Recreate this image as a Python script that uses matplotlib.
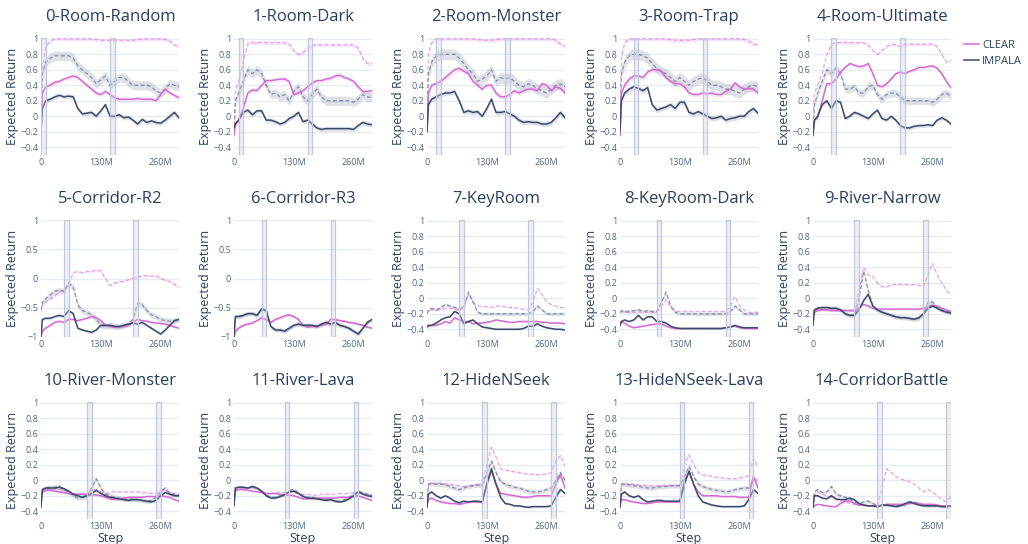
import matplotlib
matplotlib.use("Agg")
import matplotlib.pyplot as plt
from matplotlib.lines import Line2D
from matplotlib.ticker import FuncFormatter
import numpy as np

plt.rcParams['font.family'] = ['Open Sans', 'DejaVu Sans']

# ---- data (steps in millions) ----
steps = [0, 3, 10, 20, 30, 40, 50, 60, 70, 80, 90, 100, 110, 120, 130, 140, 150,
         160, 170, 180, 190, 200, 210, 220, 230, 240, 250, 260, 270, 280, 290, 300]

tasks = ['0-Room-Random', '1-Room-Dark', '2-Room-Monster', '3-Room-Trap', '4-Room-Ultimate',
         '5-Corridor-R2', '6-Corridor-R3', '7-KeyRoom', '8-KeyRoom-Dark', '9-River-Narrow',
         '10-River-Monster', '11-River-Lava', '12-HideNSeek', '13-HideNSeek-Lava', '14-CorridorBattle']

# training windows of each task (start of the two highlighted spans, in M steps)
span_starts = [(0, 150), (10, 160), (20, 170), (30, 180), (40, 190),
               (50, 200), (60, 210), (70, 220), (80, 230), (90, 240),
               (100, 250), (110, 260), (120, 270), (130, 280), (140, 290)]
span_len = 10

clear_solid = [
    [-0.2, 0.3, 0.38, 0.4, 0.44, 0.45, 0.48, 0.5, 0.52, 0.5, 0.45, 0.4, 0.35, 0.3, 0.28, 0.32, 0.28, 0.24, 0.22, 0.22, 0.22, 0.22, 0.23, 0.22, 0.22, 0.22, 0.2, 0.28, 0.35, 0.3, 0.27, 0.24],
    [-0.25, -0.1, -0.05, 0.1, 0.3, 0.34, 0.33, 0.4, 0.46, 0.46, 0.47, 0.48, 0.48, 0.45, 0.28, 0.3, 0.33, 0.38, 0.43, 0.46, 0.46, 0.48, 0.49, 0.52, 0.53, 0.5, 0.48, 0.45, 0.38, 0.32, 0.32, 0.33],
    [-0.2, 0.3, 0.4, 0.42, 0.45, 0.5, 0.55, 0.6, 0.62, 0.58, 0.55, 0.45, 0.4, 0.35, 0.4, 0.4, 0.3, 0.25, 0.25, 0.28, 0.33, 0.3, 0.33, 0.35, 0.35, 0.33, 0.42, 0.4, 0.33, 0.38, 0.36, 0.3],
    [-0.25, 0.3, 0.4, 0.48, 0.52, 0.52, 0.5, 0.57, 0.6, 0.6, 0.58, 0.5, 0.45, 0.42, 0.42, 0.38, 0.3, 0.28, 0.28, 0.3, 0.29, 0.3, 0.28, 0.28, 0.32, 0.35, 0.43, 0.38, 0.35, 0.36, 0.35, 0.3],
    [-0.2, -0.05, -0.02, 0.2, 0.42, 0.42, 0.48, 0.57, 0.63, 0.68, 0.66, 0.64, 0.65, 0.68, 0.55, 0.4, 0.38, 0.42, 0.48, 0.55, 0.57, 0.55, 0.58, 0.6, 0.63, 0.63, 0.64, 0.65, 0.62, 0.55, 0.45, 0.37],
    [-1.0, -0.9, -0.85, -0.8, -0.75, -0.73, -0.75, -0.7, -0.7, -0.72, -0.7, -0.68, -0.65, -0.67, -0.72, -0.8, -0.82, -0.83, -0.83, -0.82, -0.8, -0.75, -0.7, -0.72, -0.73, -0.75, -0.76, -0.77, -0.78, -0.8, -0.83, -0.85],
    [-1.0, -0.9, -0.85, -0.8, -0.78, -0.76, -0.72, -0.67, -0.7, -0.75, -0.7, -0.67, -0.64, -0.62, -0.65, -0.7, -0.8, -0.83, -0.82, -0.82, -0.8, -0.78, -0.7, -0.7, -0.72, -0.73, -0.75, -0.76, -0.78, -0.8, -0.83, -0.85],
    [-0.38, -0.36, -0.35, -0.35, -0.33, -0.3, -0.32, -0.25, -0.28, -0.3, -0.3, -0.33, -0.32, -0.32, -0.31, -0.3, -0.28, -0.29, -0.3, -0.31, -0.31, -0.3, -0.3, -0.3, -0.3, -0.3, -0.31, -0.31, -0.32, -0.32, -0.32, -0.33],
    [-0.32, -0.3, -0.32, -0.36, -0.38, -0.37, -0.36, -0.35, -0.34, -0.33, -0.33, -0.36, -0.38, -0.39, -0.39, -0.39, -0.39, -0.39, -0.39, -0.39, -0.39, -0.39, -0.39, -0.39, -0.38, -0.37, -0.36, -0.38, -0.39, -0.39, -0.39, -0.39],
    [-0.22, -0.18, -0.16, -0.15, -0.15, -0.16, -0.16, -0.16, -0.16, -0.16, -0.16, -0.12, -0.08, -0.1, -0.13, -0.14, -0.14, -0.14, -0.14, -0.14, -0.14, -0.14, -0.14, -0.14, -0.14, -0.13, -0.11, -0.09, -0.1, -0.13, -0.15, -0.17],
    [-0.22, -0.15, -0.13, -0.13, -0.14, -0.15, -0.16, -0.17, -0.18, -0.18, -0.18, -0.19, -0.19, -0.19, -0.2, -0.22, -0.24, -0.25, -0.24, -0.23, -0.22, -0.22, -0.22, -0.22, -0.21, -0.21, -0.21, -0.2, -0.21, -0.22, -0.25, -0.27],
    [-0.22, -0.14, -0.12, -0.12, -0.13, -0.14, -0.15, -0.16, -0.17, -0.17, -0.17, -0.18, -0.19, -0.19, -0.2, -0.22, -0.24, -0.24, -0.24, -0.23, -0.23, -0.23, -0.23, -0.23, -0.22, -0.22, -0.22, -0.21, -0.2, -0.22, -0.24, -0.26],
    [-0.3, -0.25, -0.23, -0.26, -0.28, -0.29, -0.3, -0.3, -0.31, -0.3, -0.28, -0.28, -0.28, -0.28, -0.05, 0.12, -0.05, -0.17, -0.18, -0.19, -0.2, -0.21, -0.22, -0.22, -0.21, -0.2, -0.2, -0.2, -0.2, -0.05, 0.07, -0.1],
    [-0.3, -0.25, -0.25, -0.27, -0.28, -0.29, -0.3, -0.3, -0.29, -0.28, -0.28, -0.28, -0.28, -0.28, -0.28, 0.0, 0.1, -0.05, -0.15, -0.2, -0.2, -0.2, -0.2, -0.21, -0.21, -0.21, -0.21, -0.22, -0.22, -0.22, 0.05, -0.1],
    [-0.35, -0.33, -0.31, -0.32, -0.33, -0.34, -0.34, -0.3, -0.27, -0.27, -0.3, -0.32, -0.32, -0.33, -0.33, -0.34, -0.32, -0.31, -0.31, -0.31, -0.31, -0.31, -0.3, -0.3, -0.3, -0.31, -0.31, -0.31, -0.32, -0.33, -0.33, -0.33],
]

clear_dashed = [
    [-0.2, 0.6, 0.9, 0.97, 1.0, 1.0, 1.0, 1.0, 1.0, 1.0, 1.0, 1.0, 1.0, 0.99, 0.98, 0.98, 0.98, 0.98, 0.98, 0.98, 0.98, 0.98, 0.99, 1.0, 1.0, 1.0, 1.0, 1.0, 0.99, 0.97, 0.92, 0.9],
    [-0.2, 0.35, 0.45, 0.7, 0.94, 0.95, 0.95, 0.95, 0.95, 0.95, 0.95, 0.95, 0.95, 0.93, 0.85, 0.8, 0.82, 0.88, 0.92, 0.92, 0.92, 0.92, 0.92, 0.92, 0.92, 0.92, 0.92, 0.92, 0.88, 0.75, 0.68, 0.68],
    [0.2, 0.8, 0.95, 1.0, 1.0, 1.0, 1.0, 1.0, 1.0, 1.0, 1.0, 1.0, 0.99, 0.98, 0.98, 0.98, 0.99, 1.0, 1.0, 1.0, 1.0, 1.0, 1.0, 1.0, 1.0, 1.0, 1.0, 1.0, 1.0, 0.98, 0.93, 0.91],
    [-0.25, 0.75, 0.95, 1.0, 1.0, 1.0, 1.0, 1.0, 1.0, 1.0, 1.0, 1.0, 0.99, 0.98, 0.98, 0.98, 0.98, 0.99, 1.0, 1.0, 1.0, 1.0, 1.0, 1.0, 1.0, 1.0, 1.0, 1.0, 0.99, 0.97, 0.93, 0.92],
    [0.0, 0.3, 0.4, 0.55, 0.8, 0.93, 0.95, 0.95, 0.95, 0.95, 0.95, 0.95, 0.95, 0.92, 0.85, 0.8, 0.85, 0.9, 0.93, 0.92, 0.9, 0.93, 0.93, 0.93, 0.93, 0.93, 0.93, 0.93, 0.9, 0.8, 0.7, 0.72],
    [-0.5, -0.45, -0.4, -0.35, -0.3, -0.22, -0.2, -0.1, 0.1, 0.12, 0.1, 0.12, 0.12, 0.15, 0.13, 0.0, -0.12, -0.08, -0.05, -0.05, -0.02, 0.0, 0.02, 0.05, 0.05, 0.04, 0.05, 0.0, -0.03, -0.05, -0.1, -0.15],
    [-1.0, -0.9, -0.85, -0.8, -0.78, -0.76, -0.72, -0.67, -0.7, -0.75, -0.7, -0.67, -0.64, -0.62, -0.65, -0.7, -0.8, -0.83, -0.82, -0.82, -0.8, -0.78, -0.7, -0.7, -0.72, -0.73, -0.75, -0.76, -0.78, -0.8, -0.83, -0.85],
    [-0.2, -0.15, -0.15, -0.15, -0.14, -0.13, -0.13, -0.14, -0.15, -0.1, 0.05, -0.05, -0.1, -0.1, -0.11, -0.12, -0.1, -0.1, -0.11, -0.12, -0.12, -0.13, -0.14, -0.15, -0.05, 0.13, 0.05, -0.05, -0.08, -0.1, -0.12, -0.12],
    [-0.18, -0.17, -0.18, -0.18, -0.18, -0.18, -0.18, -0.18, -0.18, -0.18, -0.1, -0.02, -0.12, -0.16, -0.17, -0.17, -0.17, -0.17, -0.17, -0.17, -0.17, -0.17, -0.17, -0.17, -0.17, -0.1, 0.02, -0.1, -0.15, -0.18, -0.18, -0.18],
    [-0.2, -0.17, -0.15, -0.15, -0.15, -0.15, -0.15, -0.15, -0.15, -0.15, -0.15, 0.1, 0.4, 0.3, 0.28, 0.2, 0.15, 0.15, 0.17, 0.18, 0.18, 0.18, 0.17, 0.18, 0.17, 0.15, 0.3, 0.45, 0.3, 0.2, 0.1, 0.05],
    [-0.25, -0.15, -0.12, -0.12, -0.11, -0.12, -0.13, -0.15, -0.17, -0.18, -0.17, -0.17, -0.12, -0.12, -0.15, -0.17, -0.16, -0.14, -0.15, -0.15, -0.15, -0.15, -0.15, -0.16, -0.16, -0.17, -0.17, -0.12, -0.13, -0.16, -0.18, -0.19],
    [-0.22, -0.13, -0.1, -0.1, -0.1, -0.1, -0.12, -0.15, -0.17, -0.17, -0.16, -0.15, -0.16, -0.15, -0.15, -0.17, -0.18, -0.18, -0.19, -0.19, -0.18, -0.18, -0.18, -0.18, -0.17, -0.17, -0.17, -0.16, -0.15, -0.17, -0.18, -0.19],
    [-0.25, -0.05, -0.04, -0.04, -0.04, -0.05, -0.05, -0.06, -0.07, -0.08, -0.07, -0.06, -0.06, -0.06, 0.2, 0.43, 0.3, 0.15, 0.13, 0.12, 0.11, 0.1, 0.09, 0.08, 0.08, 0.07, 0.08, 0.08, 0.1, 0.25, 0.32, 0.18],
    [-0.25, -0.05, -0.05, -0.05, -0.05, -0.06, -0.06, -0.07, -0.07, -0.07, -0.07, -0.07, -0.07, -0.07, -0.07, 0.2, 0.33, 0.2, 0.1, 0.07, 0.06, 0.05, 0.04, 0.03, 0.03, 0.02, 0.02, 0.03, 0.05, 0.06, 0.28, 0.17],
    [-0.3, -0.2, -0.15, -0.18, -0.2, -0.22, -0.25, -0.27, -0.28, -0.3, -0.31, -0.32, -0.32, -0.33, -0.33, -0.33, -0.1, 0.15, 0.1, 0.05, 0.02, 0.0, -0.02, -0.05, -0.1, -0.15, -0.12, -0.15, -0.2, -0.25, -0.28, -0.2],
]

impala_solid = [
    [-0.2, 0.1, 0.2, 0.22, 0.25, 0.27, 0.25, 0.26, 0.25, 0.1, 0.03, 0.04, 0.05, 0.0, 0.07, 0.15, 0.0, 0.0, 0.02, -0.02, -0.01, -0.05, -0.1, -0.04, -0.08, -0.06, -0.08, -0.09, -0.05, 0.0, 0.05, -0.02],
    [-0.15, -0.1, -0.05, 0.05, 0.08, 0.02, 0.07, 0.07, -0.05, -0.05, -0.07, -0.1, -0.08, -0.03, 0.0, 0.05, -0.07, -0.05, -0.1, -0.15, -0.17, -0.16, -0.16, -0.16, -0.16, -0.16, -0.16, -0.17, -0.12, -0.08, -0.1, -0.11],
    [-0.2, 0.15, 0.22, 0.25, 0.28, 0.3, 0.3, 0.32, 0.2, 0.05, 0.07, 0.05, 0.06, 0.0, 0.1, 0.22, 0.05, 0.05, 0.06, 0.03, 0.0, -0.05, -0.08, -0.07, -0.08, -0.08, -0.1, -0.1, -0.08, -0.02, 0.05, -0.02],
    [-0.2, 0.2, 0.3, 0.35, 0.38, 0.36, 0.33, 0.37, 0.15, 0.08, 0.1, 0.12, 0.15, 0.1, 0.18, 0.18, 0.05, 0.03, 0.06, 0.03, 0.0, -0.03, -0.02, 0.0, -0.05, -0.03, -0.02, 0.0, 0.0, 0.06, 0.1, 0.04],
    [-0.25, -0.05, 0.0, 0.15, 0.2, 0.1, 0.2, 0.18, -0.03, 0.0, 0.05, 0.03, 0.0, -0.03, 0.03, 0.08, -0.03, -0.05, 0.0, -0.05, -0.12, -0.15, -0.15, -0.13, -0.12, -0.12, -0.11, -0.12, -0.05, -0.02, -0.05, -0.1],
    [-1.0, -0.7, -0.68, -0.68, -0.65, -0.63, -0.65, -0.55, -0.6, -0.85, -0.88, -0.9, -0.92, -0.88, -0.8, -0.8, -0.8, -0.82, -0.82, -0.8, -0.78, -0.76, -0.78, -0.75, -0.8, -0.85, -0.9, -0.95, -0.88, -0.8, -0.72, -0.7],
    [-1.0, -0.65, -0.65, -0.63, -0.6, -0.6, -0.63, -0.52, -0.55, -0.82, -0.88, -0.88, -0.9, -0.85, -0.8, -0.78, -0.8, -0.8, -0.8, -0.82, -0.78, -0.75, -0.78, -0.75, -0.8, -0.82, -0.85, -0.9, -0.95, -0.85, -0.75, -0.7],
    [-0.36, -0.35, -0.35, -0.32, -0.28, -0.25, -0.24, -0.17, -0.2, -0.33, -0.3, -0.28, -0.33, -0.37, -0.38, -0.39, -0.4, -0.4, -0.4, -0.4, -0.4, -0.4, -0.39, -0.36, -0.36, -0.33, -0.36, -0.38, -0.39, -0.4, -0.4, -0.41],
    [-0.35, -0.3, -0.28, -0.3, -0.28, -0.22, -0.28, -0.24, -0.24, -0.3, -0.3, -0.32, -0.36, -0.38, -0.39, -0.39, -0.39, -0.39, -0.39, -0.39, -0.39, -0.39, -0.39, -0.39, -0.38, -0.37, -0.35, -0.37, -0.38, -0.38, -0.38, -0.38],
    [-0.35, -0.15, -0.13, -0.12, -0.12, -0.13, -0.13, -0.15, -0.2, -0.22, -0.22, -0.15, -0.03, 0.05, -0.1, -0.15, -0.18, -0.2, -0.22, -0.24, -0.25, -0.25, -0.26, -0.27, -0.25, -0.2, -0.13, -0.1, -0.13, -0.16, -0.18, -0.19],
    [-0.35, -0.12, -0.1, -0.1, -0.1, -0.09, -0.11, -0.14, -0.18, -0.2, -0.22, -0.2, -0.17, -0.13, -0.17, -0.2, -0.22, -0.23, -0.24, -0.25, -0.26, -0.25, -0.25, -0.26, -0.27, -0.28, -0.26, -0.2, -0.16, -0.18, -0.2, -0.2],
    [-0.33, -0.1, -0.09, -0.09, -0.1, -0.08, -0.1, -0.14, -0.2, -0.23, -0.23, -0.21, -0.19, -0.15, -0.14, -0.17, -0.21, -0.23, -0.23, -0.24, -0.25, -0.26, -0.25, -0.27, -0.28, -0.27, -0.24, -0.2, -0.15, -0.18, -0.2, -0.21],
    [-0.35, -0.18, -0.15, -0.2, -0.23, -0.2, -0.23, -0.27, -0.29, -0.27, -0.28, -0.27, -0.27, -0.28, -0.05, 0.15, -0.05, -0.22, -0.3, -0.31, -0.33, -0.33, -0.34, -0.35, -0.34, -0.34, -0.34, -0.34, -0.33, -0.22, -0.12, -0.17],
    [-0.35, -0.18, -0.15, -0.2, -0.22, -0.2, -0.25, -0.28, -0.27, -0.26, -0.26, -0.27, -0.27, -0.27, -0.27, -0.05, 0.12, -0.05, -0.2, -0.28, -0.3, -0.32, -0.33, -0.34, -0.34, -0.34, -0.34, -0.34, -0.33, -0.25, -0.12, -0.17],
    [-0.35, -0.2, -0.2, -0.23, -0.24, -0.2, -0.24, -0.25, -0.25, -0.23, -0.25, -0.3, -0.32, -0.33, -0.33, -0.34, -0.32, -0.32, -0.33, -0.34, -0.33, -0.3, -0.28, -0.3, -0.32, -0.33, -0.33, -0.33, -0.33, -0.34, -0.34, -0.33],
]

impala_dashed = [
    [-0.2, 0.55, 0.7, 0.75, 0.78, 0.78, 0.78, 0.78, 0.75, 0.65, 0.6, 0.55, 0.5, 0.42, 0.47, 0.52, 0.4, 0.45, 0.5, 0.5, 0.45, 0.4, 0.4, 0.4, 0.4, 0.38, 0.33, 0.3, 0.35, 0.42, 0.4, 0.38],
    [-0.2, 0.2, 0.3, 0.45, 0.6, 0.55, 0.6, 0.55, 0.4, 0.28, 0.3, 0.25, 0.28, 0.2, 0.32, 0.38, 0.25, 0.2, 0.28, 0.35, 0.25, 0.2, 0.2, 0.2, 0.2, 0.2, 0.2, 0.18, 0.22, 0.28, 0.25, 0.24],
    [-0.2, 0.55, 0.7, 0.78, 0.8, 0.8, 0.8, 0.8, 0.75, 0.68, 0.6, 0.55, 0.45, 0.48, 0.52, 0.6, 0.45, 0.5, 0.48, 0.5, 0.45, 0.4, 0.38, 0.42, 0.4, 0.35, 0.33, 0.3, 0.35, 0.4, 0.42, 0.38],
    [-0.2, 0.55, 0.7, 0.78, 0.8, 0.8, 0.78, 0.75, 0.68, 0.62, 0.58, 0.55, 0.5, 0.45, 0.5, 0.45, 0.4, 0.45, 0.48, 0.5, 0.45, 0.4, 0.4, 0.38, 0.35, 0.35, 0.32, 0.3, 0.35, 0.38, 0.4, 0.38],
    [-0.2, 0.15, 0.3, 0.45, 0.6, 0.55, 0.62, 0.55, 0.35, 0.35, 0.38, 0.3, 0.3, 0.38, 0.4, 0.28, 0.22, 0.28, 0.3, 0.3, 0.25, 0.2, 0.2, 0.2, 0.2, 0.2, 0.2, 0.18, 0.22, 0.28, 0.3, 0.26],
    [-0.55, -0.4, -0.35, -0.28, -0.22, -0.2, -0.22, -0.08, -0.15, -0.45, -0.55, -0.58, -0.62, -0.7, -0.8, -0.82, -0.8, -0.82, -0.82, -0.8, -0.78, -0.7, -0.42, -0.45, -0.55, -0.62, -0.65, -0.7, -0.72, -0.73, -0.72, -0.7],
    [-1.0, -0.65, -0.65, -0.63, -0.6, -0.6, -0.63, -0.52, -0.55, -0.82, -0.88, -0.88, -0.9, -0.85, -0.8, -0.78, -0.8, -0.8, -0.8, -0.82, -0.78, -0.75, -0.78, -0.75, -0.8, -0.82, -0.85, -0.9, -0.95, -0.85, -0.75, -0.7],
    [-0.2, -0.15, -0.13, -0.15, -0.12, -0.08, -0.1, -0.12, -0.14, -0.12, 0.08, -0.05, -0.18, -0.2, -0.2, -0.2, -0.2, -0.2, -0.2, -0.2, -0.2, -0.2, -0.2, -0.2, -0.17, -0.1, -0.15, -0.2, -0.2, -0.2, -0.2, -0.2],
    [-0.18, -0.16, -0.17, -0.17, -0.16, -0.15, -0.17, -0.16, -0.17, -0.17, -0.05, 0.08, -0.1, -0.18, -0.2, -0.2, -0.2, -0.2, -0.2, -0.2, -0.2, -0.2, -0.2, -0.2, -0.2, -0.17, -0.1, -0.15, -0.2, -0.2, -0.2, -0.2],
    [-0.3, -0.15, -0.13, -0.12, -0.12, -0.13, -0.13, -0.15, -0.2, -0.22, -0.22, 0.0, 0.35, 0.1, -0.1, -0.15, -0.18, -0.2, -0.22, -0.24, -0.25, -0.25, -0.26, -0.27, -0.26, -0.2, -0.05, -0.05, -0.12, -0.15, -0.17, -0.18],
    [-0.3, -0.12, -0.1, -0.09, -0.09, -0.08, -0.12, -0.15, -0.2, -0.23, -0.22, -0.2, -0.1, 0.02, -0.1, -0.18, -0.2, -0.22, -0.23, -0.24, -0.25, -0.24, -0.25, -0.26, -0.27, -0.26, -0.22, -0.15, -0.1, -0.17, -0.18, -0.19],
    [-0.3, -0.1, -0.09, -0.09, -0.1, -0.08, -0.1, -0.14, -0.19, -0.22, -0.22, -0.2, -0.18, -0.13, -0.12, -0.16, -0.2, -0.22, -0.22, -0.23, -0.24, -0.25, -0.25, -0.27, -0.27, -0.25, -0.22, -0.18, -0.14, -0.16, -0.18, -0.2],
    [-0.3, -0.05, -0.04, -0.05, -0.05, -0.06, -0.08, -0.1, -0.12, -0.1, -0.08, -0.07, -0.06, -0.06, 0.1, 0.25, 0.1, -0.02, -0.05, -0.07, -0.09, -0.1, -0.12, -0.14, -0.15, -0.15, -0.14, -0.12, -0.1, 0.0, 0.1, 0.0],
    [-0.3, -0.05, -0.05, -0.06, -0.07, -0.08, -0.09, -0.1, -0.1, -0.09, -0.08, -0.08, -0.07, -0.07, -0.07, 0.05, 0.18, 0.05, -0.05, -0.08, -0.1, -0.12, -0.13, -0.14, -0.15, -0.14, -0.12, -0.11, -0.1, -0.1, 0.02, 0.0],
    [-0.3, -0.15, -0.12, -0.16, -0.15, -0.08, -0.18, -0.2, -0.22, -0.24, -0.28, -0.3, -0.28, -0.27, -0.3, -0.33, -0.32, -0.32, -0.32, -0.33, -0.32, -0.32, -0.28, -0.28, -0.3, -0.32, -0.33, -0.33, -0.33, -0.34, -0.34, -0.33],
]

# half width of the shaded band around the dashed IMPALA curve, per task
spread = [0.06, 0.06, 0.07, 0.07, 0.05, 0.05, 0.04, 0.02, 0.02, 0.03, 0.03, 0.02, 0.03, 0.03, 0.02]

# ---- styling ----
clear_color = '#D46BD4'
impala_color = '#3B4A6B'
text_color = '#2a3f5f'
tick_color = '#506784'
grid_color = '#E6EBF3'

W, H = 1028, 544
fig = plt.figure(figsize=(W / 100, H / 100), dpi=100)

col_left = [41, 234, 427, 620, 813]
row_top = [38, 220, 402]
ax_w, ax_h = 138, 117

fmt = FuncFormatter(lambda v, p: f'{v:g}'.replace('-', '\u2212'))

for i, name in enumerate(tasks):
    r, c = divmod(i, 5)
    ax = fig.add_axes([col_left[c] / W, 1 - (row_top[r] + ax_h) / H, ax_w / W, ax_h / H])
    x = np.array(steps)

    series = [
        (impala_dashed[i], impala_color, '--', 0.55, spread[i]),
        (clear_dashed[i], clear_color, '--', 0.55, spread[i] * 0.4),
        (clear_solid[i], clear_color, '-', 1.0, spread[i] * 0.5),
        (impala_solid[i], impala_color, '-', 1.0, spread[i] * 0.5),
    ]
    for vals, col, ls, a, sd in series:
        y = np.array(vals)
        ax.fill_between(x, y - sd, y + sd, color=col, alpha=0.16, lw=0, zorder=2)
    for vals, col, ls, a, sd in series:
        ax.plot(x, vals, color=col, ls=ls, lw=1.1 if ls == '-' else 0.9,
                alpha=a, zorder=3, dashes=(3, 2) if ls == '--' else (None, None))

    for s in span_starts[i]:
        ax.axvspan(s, s + span_len, facecolor='#cfd2e4', alpha=0.35, zorder=4)
        ax.axvspan(s, s + span_len, facecolor='none', edgecolor='#c3c7da', lw=0.9, zorder=4)

    ax.set_xlim(0, 300)
    if i in (5, 6):
        ax.set_ylim(-1.0, 1.0)
        ax.set_yticks([-1, -0.5, 0, 0.5, 1])
    else:
        ax.set_ylim(-0.5, 1.01)
        ax.set_yticks([-0.4, -0.2, 0, 0.2, 0.4, 0.6, 0.8, 1])
    ax.yaxis.set_major_formatter(fmt)
    ax.set_xticks([0, 130, 260])
    ax.set_xticklabels(['0', '130M', '260M'])
    ax.grid(axis='y', color=grid_color, lw=0.9, zorder=0)
    ax.set_axisbelow(True)
    for sp in ax.spines.values():
        sp.set_visible(False)
    ax.tick_params(length=0, labelsize=6.5, colors=tick_color, pad=2)

    ax.set_title(name, fontsize=12, color=text_color, pad=12)
    ax.set_ylabel('Expected Return', fontsize=9, color=text_color)
    ax.yaxis.set_label_coords(-0.16, 0.5)
    if r == 2:
        ax.set_xlabel('Step', fontsize=9, color=text_color)
        ax.xaxis.set_label_coords(0.5, -0.11)

handles = [Line2D([], [], color=clear_color, lw=1.1),
           Line2D([], [], color=impala_color, lw=1.1)]
fig.legend(handles, ['CLEAR', 'IMPALA'], loc='upper left',
           bbox_to_anchor=(962 / W, 1 - 38 / H), frameon=False, fontsize=8,
           handlelength=1.3, handletextpad=0.3, labelcolor=text_color, labelspacing=0.45,
           borderpad=0.2, borderaxespad=0)

fig.savefig('out.png', dpi=100, facecolor='white')
